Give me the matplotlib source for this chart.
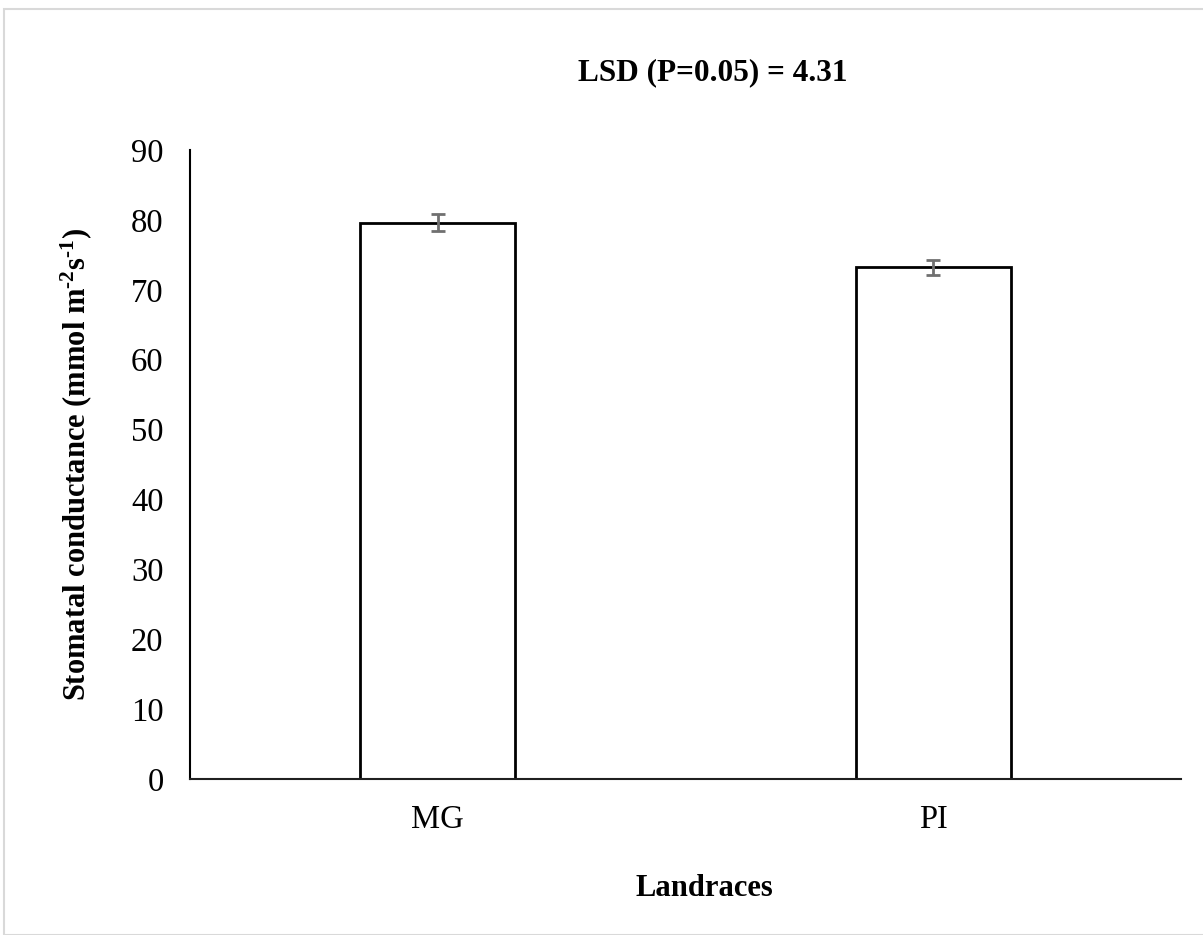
import matplotlib
matplotlib.use("Agg")
import matplotlib.pyplot as plt
from matplotlib.patches import Rectangle

categories = ["MG", "PI"]
values = [79.6, 73.2]
errors = [1.2, 1.1]
yticks = [0, 10, 20, 30, 40, 50, 60, 70, 80, 90]

plt.rcParams['font.family'] = ['Liberation Serif', 'DejaVu Serif']
plt.rcParams['mathtext.fontset'] = 'custom'
plt.rcParams['mathtext.rm'] = 'Liberation Serif'
plt.rcParams['mathtext.bf'] = 'Liberation Serif:bold'
plt.rcParams['mathtext.it'] = 'Liberation Serif:italic'

W, H = 1203, 935
fig = plt.figure(figsize=(W / 100, H / 100), dpi=100)

ax = fig.add_axes([190 / W, 1 - 779 / H, (1181 - 190) / W, (779 - 150) / H])
x = list(range(len(categories)))
ax.bar(x, values, width=0.313, color="white", edgecolor="black", linewidth=2, zorder=2)
ax.errorbar(x, values, yerr=errors, fmt="none", ecolor="#707070", elinewidth=2,
            capsize=5, capthick=2, zorder=3)
ax.set_xlim(-0.5, 1.5)
ax.set_ylim(0, 90)
ax.set_yticks(yticks)
ax.set_xticks(x)
ax.set_xticklabels(categories)
ax.tick_params(axis="both", length=0, labelsize=23.5)
ax.tick_params(axis="y", pad=19)
ax.tick_params(axis="x", pad=18)
for s in ["top", "right"]:
    ax.spines[s].set_visible(False)
ax.spines["left"].set_linewidth(1.5)
ax.spines["bottom"].set_linewidth(1.5)
ax.spines["bottom"].set_color("#202020")

fig.text(713 / W, 1 - 73 / H, "LSD (P=0.05) = 4.31", ha="center", va="center",
         fontsize=22.5, fontweight="bold")
fig.text(704 / W, 1 - 888 / H, "Landraces", ha="center", va="center",
         fontsize=22, fontweight="bold")
fig.text(76 / W, 1 - 465 / H,
         r"Stomatal conductance (mmol m$^{\mathbf{\text{-}2}}$s$^{\mathbf{\text{-}1}}$)",
         ha="center", va="center", rotation=90, fontsize=22, fontweight="bold")

fig.patches.append(Rectangle((3.5 / W, 0), 1.2, 1 - 9 / H, transform=fig.transFigure,
                             fill=False, edgecolor="#d9d9d9", linewidth=1.5))

fig.savefig("out.png", dpi=100)
